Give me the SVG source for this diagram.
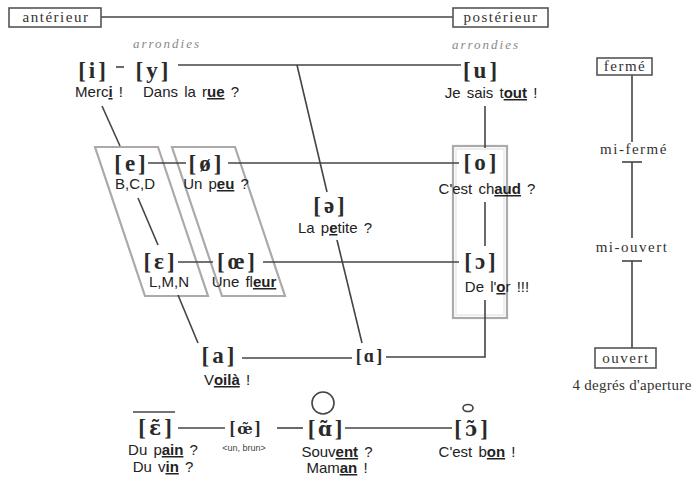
<svg xmlns="http://www.w3.org/2000/svg" width="699" height="479" viewBox="0 0 699 479">
  <style>
    .ph { font-family: "Liberation Serif", "Times New Roman", serif; font-size: 23px; font-weight: bold; fill: #2a2a2a; text-anchor: middle; }
    .phs { font-family: "Liberation Serif", "Times New Roman", serif; font-size: 18px; font-weight: bold; fill: #2a2a2a; text-anchor: middle; }
    .nas { font-family: "DejaVu Serif", serif; font-size: 20px; }
    .ex { font-family: "Liberation Sans", Arial, sans-serif; font-size: 15px; fill: #222; text-anchor: middle; word-spacing: 2px; }
    .tiny { font-family: "Liberation Sans", Arial, sans-serif; font-size: 9px; fill: #444; text-anchor: middle; }
    .u { text-decoration: underline; font-weight: bold; }
    .lab { font-family: "Liberation Serif", "Times New Roman", serif; font-size: 15px; fill: #333; text-anchor: middle; letter-spacing: 1.5px; }
    .it { font-family: "Liberation Serif", "Times New Roman", serif; font-size: 13px; font-style: italic; fill: #888; text-anchor: middle; letter-spacing: 2px; }
    .ln { stroke: #444; stroke-width: 1.6; fill: none; }
    .box { stroke: #555; stroke-width: 1.6; fill: #fff; }
    .grp { stroke: #aaa; stroke-width: 2.2; fill: none; }
    .grpin { stroke: #ddd; stroke-width: 1; fill: none; }
  </style>

  <rect width="699" height="479" fill="#fff"/>

  <!-- grey groupings: front mid vowels (unrounded / rounded), back rounded mid vowels -->
  <g id="groupings">
    <polygon class="grp" points="95,147 158,147 208,296 145,296"/>
    <polygon class="grp" points="172,147 235,147 285,296 222,296"/>
    <rect class="grp" x="453" y="146" width="54" height="172"/>
    <rect class="grpin" x="456" y="149" width="48" height="166"/>
  </g>

  <!-- connectors -->
  <g id="connectors">
    <line class="ln" x1="101" y1="17" x2="453" y2="17"/>
    <line class="ln" x1="116" y1="67" x2="124" y2="67"/>
    <line class="ln" x1="178" y1="65" x2="461" y2="65"/>
    <line class="ln" x1="485" y1="106" x2="485" y2="148"/>
    <line class="ln" x1="102" y1="106" x2="120" y2="146"/>
    <line class="ln" x1="148" y1="163" x2="186" y2="163"/>
    <line class="ln" x1="228" y1="163" x2="459" y2="163"/>
    <line class="ln" x1="297" y1="65" x2="327" y2="192"/>
    <line class="ln" x1="337" y1="240" x2="362" y2="343"/>
    <line class="ln" x1="138" y1="198" x2="158" y2="245"/>
    <line class="ln" x1="178" y1="262" x2="213" y2="262"/>
    <line class="ln" x1="263" y1="262" x2="459" y2="262"/>
    <line class="ln" x1="485" y1="202" x2="485" y2="246"/>
    <polyline class="ln" points="485,300 485,357 386,357"/>
    <line class="ln" x1="178" y1="295" x2="198" y2="343"/>
    <line class="ln" x1="242" y1="358" x2="352" y2="358"/>
    <line class="ln" x1="178" y1="428" x2="225" y2="428"/>
    <line class="ln" x1="277" y1="428" x2="303" y2="428"/>
    <line class="ln" x1="345" y1="428" x2="452" y2="428"/>
    <!-- aperture scale -->
    <line class="ln" x1="632" y1="75" x2="632" y2="142"/>
    <line class="ln" x1="622" y1="162" x2="642" y2="162"/>
    <line class="ln" x1="632" y1="162" x2="632" y2="238"/>
    <line class="ln" x1="622" y1="261" x2="642" y2="261"/>
    <line class="ln" x1="632" y1="261" x2="632" y2="348"/>
  </g>

  <!-- axis labels -->
  <g id="anterieur">
    <rect class="box" x="9" y="8" width="92" height="19"/>
    <text class="lab" x="56" y="22">antérieur</text>
  </g>
  <g id="posterieur">
    <rect class="box" x="453" y="8" width="95" height="19"/>
    <text class="lab" x="501" y="22">postérieur</text>
  </g>
  <g id="arrondies-ant"><text class="it" x="167" y="48">arrondies</text></g>
  <g id="arrondies-post"><text class="it" x="486" y="49">arrondies</text></g>

  <!-- oral vowels -->
  <g id="v-i">
    <text class="ph" x="92" y="78">[<tspan dx="3">i</tspan><tspan dx="3">]</tspan></text>
    <text class="ex" x="99" y="97">Merc<tspan class="u">i</tspan> !</text>
  </g>
  <g id="v-y">
    <text class="ph" x="152" y="78">[<tspan dx="3">y</tspan><tspan dx="3">]</tspan></text>
    <text class="ex" x="191" y="97">Dans la r<tspan class="u">ue</tspan> ?</text>
  </g>
  <g id="v-u">
    <text class="ph" x="480" y="78">[<tspan dx="3">u</tspan><tspan dx="3">]</tspan></text>
    <text class="ex" x="491" y="98">Je sais t<tspan class="u">out</tspan> !</text>
  </g>
  <g id="v-e">
    <text class="ph" x="130" y="171">[<tspan dx="3">e</tspan><tspan dx="3">]</tspan></text>
    <text class="ex" x="135" y="189">B,C,D</text>
  </g>
  <g id="v-oe-ferme">
    <text class="ph" x="205" y="171">[<tspan dx="3">ø</tspan><tspan dx="3">]</tspan></text>
    <text class="ex" x="216" y="189">Un p<tspan class="u">eu</tspan> ?</text>
  </g>
  <g id="v-o">
    <text class="ph" x="480" y="170">[<tspan dx="3">o</tspan><tspan dx="3">]</tspan></text>
    <text class="ex" x="487" y="194">C'est ch<tspan class="u">aud</tspan> ?</text>
  </g>
  <g id="v-schwa">
    <text class="ph" x="329" y="213">[<tspan dx="3">ə</tspan><tspan dx="3">]</tspan></text>
    <text class="ex" x="335" y="233">La p<tspan class="u">e</tspan>tite ?</text>
  </g>
  <g id="v-epsilon">
    <text class="ph" x="159" y="269">[<tspan dx="3">ɛ</tspan><tspan dx="3">]</tspan></text>
    <text class="ex" x="169" y="287">L,M,N</text>
  </g>
  <g id="v-oe-ouvert">
    <text class="ph" x="236" y="269">[<tspan dx="3">œ</tspan><tspan dx="3">]</tspan></text>
    <text class="ex" x="244" y="287">Une fl<tspan class="u">eur</tspan></text>
  </g>
  <g id="v-o-ouvert">
    <text class="ph" x="480" y="269">[<tspan dx="3">ɔ</tspan><tspan dx="3">]</tspan></text>
    <text class="ex" x="497" y="292">De l'<tspan class="u">o</tspan>r  !!!</text>
  </g>
  <g id="v-a">
    <text class="ph" x="218" y="363">[<tspan dx="3">a</tspan><tspan dx="3">]</tspan></text>
    <text class="ex" x="227" y="385">V<tspan class="u">oilà</tspan> !</text>
  </g>
  <g id="v-a-post">
    <text class="phs" x="369" y="362">[<tspan dx="2">ɑ</tspan><tspan dx="2">]</tspan></text>
  </g>

  <!-- nasal vowels: vowel + combining tilde set in a face with mark positioning -->
  <g id="n-epsilon">
    <line class="ln" x1="133" y1="412" x2="175" y2="412"/>
    <text class="ph" y="435"><tspan x="142">[</tspan><tspan class="nas" x="155">ɛ̃</tspan><tspan x="168">]</tspan></text>
    <text class="ex" x="163" y="455">Du p<tspan class="u">ain</tspan> ?</text>
    <text class="ex" x="163" y="472">Du v<tspan class="u">in</tspan> ?</text>
  </g>
  <g id="n-oe">
    <text class="phs" y="434"><tspan x="232.5">[</tspan><tspan class="nas" x="245" style="font-size:15px">œ̃</tspan><tspan x="257.5">]</tspan></text>
    <text class="tiny" x="244" y="451">&lt;un, brun&gt;</text>
  </g>
  <g id="n-a">
    <circle class="ln" cx="323" cy="403" r="11"/>
    <text class="ph" y="436"><tspan x="311.5">[</tspan><tspan class="nas" x="325">ɑ̃</tspan><tspan x="338.5">]</tspan></text>
    <text class="ex" x="337" y="457">Souv<tspan class="u">ent</tspan> ?</text>
    <text class="ex" x="337" y="473">Mam<tspan class="u">an</tspan> !</text>
  </g>
  <g id="n-o">
    <ellipse class="ln" cx="468" cy="408" rx="5" ry="3.5"/>
    <text class="ph" y="436"><tspan x="458">[</tspan><tspan class="nas" x="471">ɔ̃</tspan><tspan x="484">]</tspan></text>
    <text class="ex" x="477" y="457">C'est b<tspan class="u">on</tspan> !</text>
  </g>

  <!-- aperture scale -->
  <g id="ferme">
    <rect class="box" x="597" y="58" width="55" height="17"/>
    <text class="lab" x="625" y="71">fermé</text>
  </g>
  <g id="mi-ferme"><text class="lab" x="634" y="154">mi-fermé</text></g>
  <g id="mi-ouvert"><text class="lab" x="632" y="252">mi-ouvert</text></g>
  <g id="ouvert">
    <rect class="box" x="595" y="348" width="61" height="20"/>
    <text class="lab" x="626" y="363">ouvert</text>
  </g>
  <g id="degres"><text class="lab" x="632" y="390" style="letter-spacing:0.3px">4 degrés d'aperture</text></g>
</svg>
